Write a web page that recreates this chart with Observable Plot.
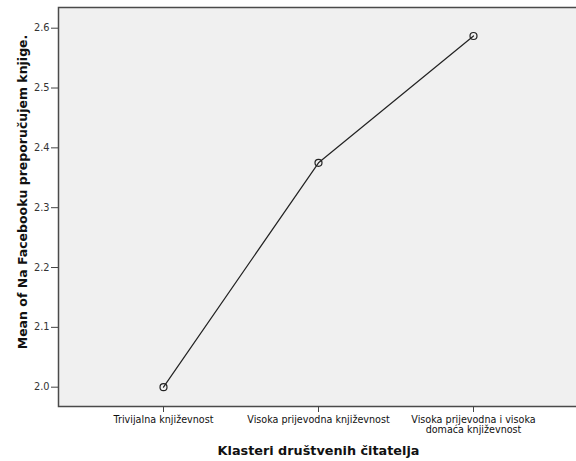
<!DOCTYPE html>
<html><head><meta charset="utf-8">
<script src="https://cdn.jsdelivr.net/npm/d3@7"></script>
<script src="https://cdn.jsdelivr.net/npm/@observablehq/plot@0.6"></script>
<style>body{margin:0;background:#fff;overflow:hidden}</style>
</head><body><div id="chart"></div>
<script>
const categories = ["Trivijalna književnost", "Visoka prijevodna književnost", "Visoka prijevodna i visoka domaća književnost"];
const tickLabels = ["Trivijalna književnost", "Visoka prijevodna književnost", "Visoka prijevodna i visoka\ndomaća književnost"];
const means = [2.0, 2.375, 2.587];
const yTicks = [2.0, 2.1, 2.2, 2.3, 2.4, 2.5, 2.6];
const xTitle = "Klasteri društvenih čitatelja";
const yTitle = "Mean of Na Facebooku preporučujem knjige.";

const data = categories.map((c, i) => ({cluster: c, mean: means[i]}));

const chart = Plot.plot({
  width: 576, height: 461,
  marginLeft: 58, marginRight: -2, marginTop: 7, marginBottom: 55,
  style: {fontFamily: "DejaVu Sans", fontSize: "10px", color: "#222", background: "#fff"},
  x: {type: "point", domain: categories, padding: 0.6667},
  y: {domain: [1.9677, 2.6346]},
  marks: [
    Plot.frame({fill: "#f0f0f0", stroke: "#4a4a4a", strokeWidth: 1.5}),
    Plot.axisX({tickSize: 6, tickPadding: 3, stroke: "#444", fill: "#111", label: null, fontSize: 9.6,
      tickFormat: d => tickLabels[categories.indexOf(d)], lineHeight: 1.05}),
    Plot.axisY(yTicks, {tickSize: 7, tickPadding: 2, stroke: "#444", fill: "#333", label: null, fontSize: 9.8,
      tickFormat: d => d.toFixed(1)}),
    Plot.line(data, {x: "cluster", y: "mean", stroke: "#222", strokeWidth: 1.2}),
    Plot.dot(data, {x: "cluster", y: "mean", r: 3.5, stroke: "#222", fill: "none", strokeWidth: 1.2}),
    Plot.text([xTitle], {frameAnchor: "bottom", dy: 44, lineAnchor: "middle", fontSize: 12.8, fontWeight: "bold", fill: "#111"}),
    Plot.text([yTitle], {frameAnchor: "left", dx: -36, dy: -15, rotate: -90, textAnchor: "middle", lineAnchor: "middle", fontSize: 12.5, fontWeight: "bold", fill: "#111"})
  ]
});
document.getElementById("chart").append(chart);
</script>
</body></html>
